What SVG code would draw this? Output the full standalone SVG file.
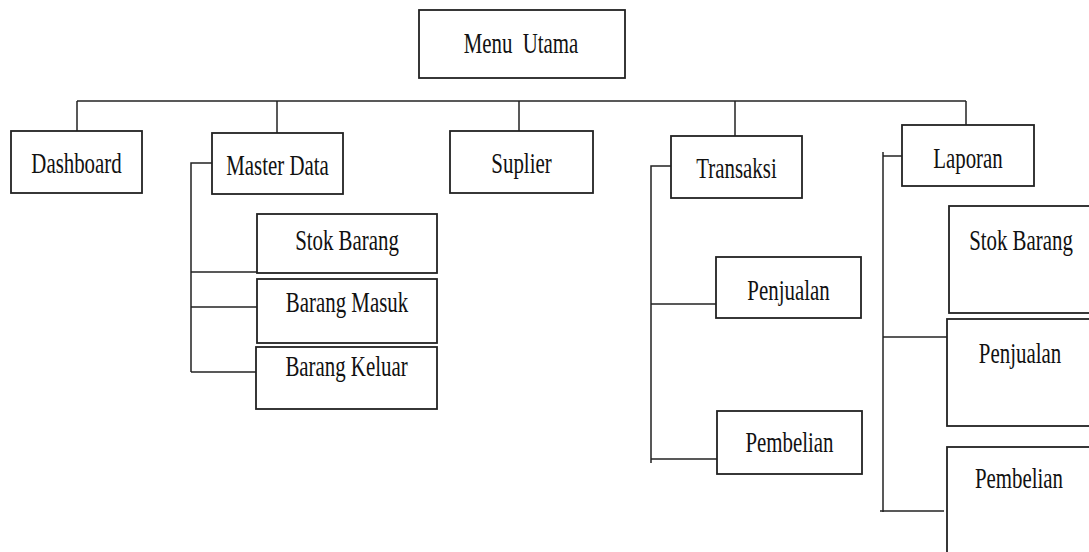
<svg xmlns="http://www.w3.org/2000/svg" width="1089" height="552" viewBox="0 0 1089 552">
  <style>
    .box { fill: #ffffff; stroke: #222222; stroke-width: 1.8; }
    .wire { fill: none; stroke: #222222; stroke-width: 1.5; }
    .label { font-family: "Liberation Serif", "Times New Roman", serif; font-size: 29px; fill: #111111; text-anchor: middle; }
  </style>
  <rect width="1089" height="552" fill="#ffffff"/>

  <!-- connectors -->
  <g id="connectors" class="wire">
    <!-- main bus -->
    <path d="M77,101 H966"/>
    <path d="M77,101 V131"/>
    <path d="M277,101 V133"/>
    <path d="M519,101 V131"/>
    <path d="M735,101 V136"/>
    <path d="M966,101 V125"/>
    <!-- Master Data branch -->
    <path d="M212,163 H191 V372"/>
    <path d="M191,272 H257"/>
    <path d="M191,307 H257"/>
    <path d="M191,372 H256"/>
    <!-- Transaksi branch -->
    <path d="M671,166 H651 V463"/>
    <path d="M651,304 H716"/>
    <path d="M651,459 H717"/>
    <!-- Laporan branch -->
    <path d="M903,156 H883"/>
    <path d="M883,152 V512"/>
    <path d="M883,337 H947"/>
    <path d="M880,511 H944"/>
  </g>

  <g id="menu-utama">
    <rect class="box" x="419" y="10" width="206" height="68"/>
    <text class="label" transform="translate(521,53) scale(0.72,1)">Menu&#160; Utama</text>
  </g>

  <g id="dashboard">
    <rect class="box" x="11" y="131" width="131" height="62"/>
    <text class="label" transform="translate(76.5,173) scale(0.72,1)">Dashboard</text>
  </g>

  <g id="master-data">
    <rect class="box" x="212" y="133" width="131" height="61"/>
    <text class="label" transform="translate(277.5,175) scale(0.72,1)">Master Data</text>
  </g>

  <g id="suplier">
    <rect class="box" x="450" y="131" width="143" height="62"/>
    <text class="label" transform="translate(521.5,173) scale(0.72,1)">Suplier</text>
  </g>

  <g id="transaksi">
    <rect class="box" x="671" y="136" width="131" height="62"/>
    <text class="label" transform="translate(736.5,178) scale(0.72,1)">Transaksi</text>
  </g>

  <g id="laporan">
    <rect class="box" x="902" y="125" width="132" height="61"/>
    <text class="label" transform="translate(968,168) scale(0.72,1)">Laporan</text>
  </g>

  <g id="md-stok-barang">
    <rect class="box" x="257" y="214" width="180" height="59"/>
    <text class="label" transform="translate(347,250) scale(0.72,1)">Stok Barang</text>
  </g>

  <g id="md-barang-masuk">
    <rect class="box" x="257" y="279" width="180" height="64"/>
    <text class="label" transform="translate(347,312) scale(0.72,1)">Barang Masuk</text>
  </g>

  <g id="md-barang-keluar">
    <rect class="box" x="256" y="347" width="181" height="62"/>
    <text class="label" transform="translate(346.5,376) scale(0.72,1)">Barang Keluar</text>
  </g>

  <g id="tr-penjualan">
    <rect class="box" x="716" y="257" width="145" height="61"/>
    <text class="label" transform="translate(788.5,300) scale(0.72,1)">Penjualan</text>
  </g>

  <g id="tr-pembelian">
    <rect class="box" x="717" y="411" width="145" height="63"/>
    <text class="label" transform="translate(789.5,452) scale(0.72,1)">Pembelian</text>
  </g>

  <g id="lp-stok-barang">
    <rect class="box" x="949" y="206" width="150" height="107"/>
    <text class="label" transform="translate(1021,250) scale(0.72,1)">Stok Barang</text>
  </g>

  <g id="lp-penjualan">
    <rect class="box" x="947" y="319" width="150" height="107"/>
    <text class="label" transform="translate(1020,363) scale(0.72,1)">Penjualan</text>
  </g>

  <g id="lp-pembelian">
    <rect class="box" x="947" y="447" width="150" height="120"/>
    <text class="label" transform="translate(1019,488) scale(0.72,1)">Pembelian</text>
  </g>
</svg>
